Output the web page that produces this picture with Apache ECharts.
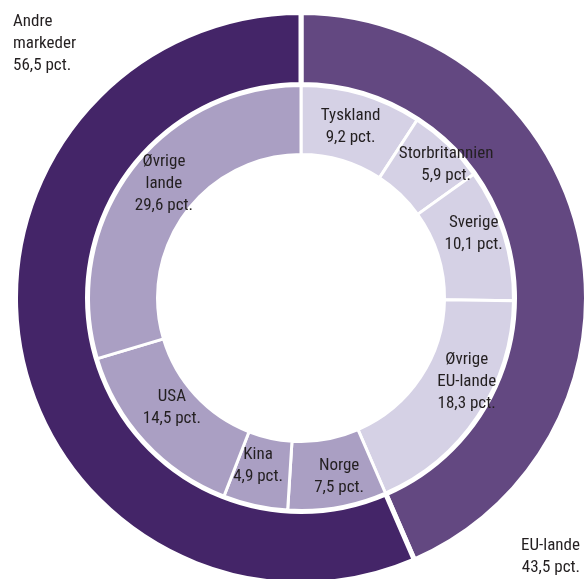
<!DOCTYPE html>
<html>
<head>
<meta charset="utf-8">
<script src="https://cdn.jsdelivr.net/npm/echarts@6/dist/echarts.min.js"></script>
<style>
  html, body { margin: 0; padding: 0; background: #ffffff; }
  #chart { width: 584px; height: 579px; }
</style>
</head>
<body>
<div id="chart"></div>
<script>
// Danish export markets, share in percent
const groupNames = ['EU-lande', 'Andre\nmarkeder'];
const groupValues = [43.5, 56.5];

const countryNames = ['Tyskland', 'Storbritannien', 'Sverige', 'Øvrige\nEU-lande',
                      'Norge', 'Kina', 'USA', 'Øvrige\nlande'];
const countryValues = [9.2, 5.9, 10.1, 18.3, 7.5, 4.9, 14.5, 29.6];
// 0 = EU country, 1 = other market
const countryGroup = [0, 0, 0, 0, 1, 1, 1, 1];

const groupColors = ['#634881', '#442568'];
const countryColors = ['#d5d1e5', '#aa9fc3'];

// small hand nudges of the inner labels away from the ring's mid-line
const labelNudge = [[-2, 2], [20, -2], [0, -10], [15, -17], [7, 0], [-4, -9], [4, -13], [8, -6]];

const fmt = v => v.toFixed(1).replace('.', ',') + ' pct.';
const font = {
  fontFamily: '"Roboto Condensed", "Liberation Sans", Arial, sans-serif',
  fontSize: 17,
  lineHeight: 22,
  color: '#231f20'
};

const chart = echarts.init(document.getElementById('chart'), null, { renderer: 'canvas' });

chart.setOption({
  animation: false,
  series: [
    {
      type: 'pie',
      center: [301, 298],
      radius: [213.5, 285.5],
      startAngle: 90,
      clockwise: true,
      silent: true,
      avoidLabelOverlap: false,
      itemStyle: { borderColor: '#ffffff', borderWidth: 5 },
      label: Object.assign({
        show: true,
        position: 'outside',
        formatter: p => p.name + '\n' + fmt(p.value)
      }, font),
      labelLine: { show: false },
      labelLayout: function (params) {
        if (params.dataIndex === 0) {
          return { x: 580, y: 535, align: 'right', verticalAlign: 'top', hideOverlap: false };
        }
        return { x: 13, y: 11, align: 'left', verticalAlign: 'top', hideOverlap: false };
      },
      data: groupNames.map((n, i) => ({
        name: n,
        value: groupValues[i],
        itemStyle: { color: groupColors[i] }
      }))
    },
    {
      type: 'pie',
      center: [301, 298],
      radius: [143.5, 212.5],
      startAngle: 90,
      clockwise: true,
      silent: true,
      avoidLabelOverlap: false,
      itemStyle: { borderColor: '#ffffff', borderWidth: 3 },
      label: Object.assign({
        show: true,
        position: 'inside',
        align: 'center',
        formatter: p => p.name + '\n' + fmt(p.value)
      }, font),
      labelLine: { show: false },
      labelLayout: function (params) {
        const n = labelNudge[params.dataIndex] || [0, 0];
        return { dx: n[0], dy: n[1], hideOverlap: false };
      },
      data: countryNames.map((n, i) => ({
        name: n,
        value: countryValues[i],
        itemStyle: { color: countryColors[countryGroup[i]] }
      }))
    }
  ]
});
</script>
</body>
</html>
